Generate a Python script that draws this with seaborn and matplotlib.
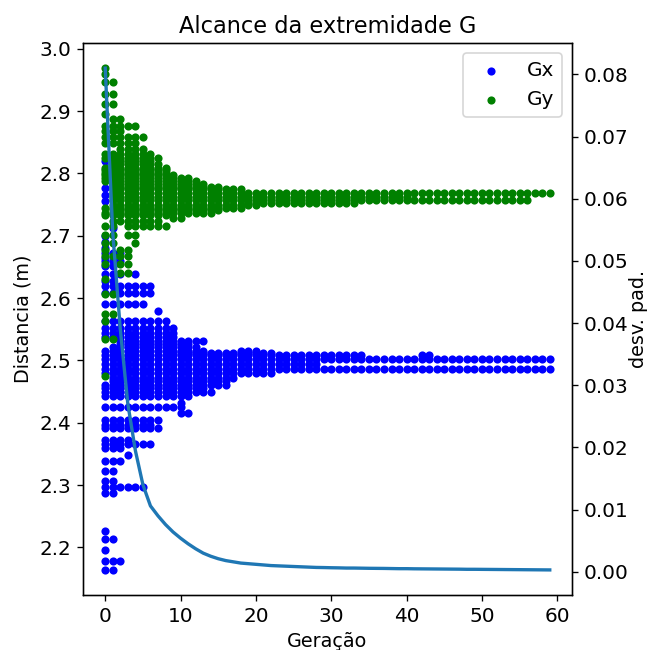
import numpy as np
import pandas as pd
import seaborn as sns
import matplotlib.pyplot as plt

# rows of individuals: value, first generation, last generation
gx_val = [2.164, 2.179, 2.196, 2.213, 2.227, 2.287, 2.297, 2.306, 2.322, 2.338,
          2.349, 2.360, 2.366, 2.373, 2.392, 2.397, 2.405, 2.415, 2.426, 2.432,
          2.443, 2.450, 2.456, 2.461, 2.467, 2.472, 2.480, 2.487, 2.495, 2.502,
          2.508, 2.508, 2.512, 2.515, 2.515, 2.521, 2.526, 2.531, 2.537, 2.544,
          2.552, 2.563, 2.579, 2.590, 2.608, 2.619, 2.627, 2.639, 2.639, 2.651,
          2.660, 2.665, 2.673, 2.680, 2.690, 2.700, 2.713, 2.756, 2.765, 2.776,
          2.820]
gx_first = [0, 0, 0, 0, 0, 0, 0, 0, 0, 0,
            3, 0, 0, 0, 0, 0, 0, 10, 0, 10,
            0, 0, 0, 0, 1, 1, 0, 0, 0, 0,
            0, 42, 10, 0, 18, 1, 2, 2, 0, 0,
            0, 0, 7, 0, 0, 0, 0, 0, 4, 0,
            0, 0, 0, 0, 0, 0, 1, 0, 0, 0,
            0]
gx_last = [1, 2, 0, 1, 0, 1, 5, 1, 1, 2,
           3, 2, 6, 3, 7, 6, 7, 11, 10, 10,
           11, 14, 13, 16, 16, 17, 22, 59, 28, 59,
           34, 43, 22, 13, 20, 12, 11, 13, 9, 9,
           9, 8, 7, 5, 6, 6, 1, 2, 4, 1,
           2, 0, 2, 0, 0, 0, 1, 0, 0, 0,
           0]

gy_val = [2.475, 2.534, 2.563, 2.574, 2.606, 2.630, 2.641, 2.654, 2.654, 2.667,
          2.678, 2.678, 2.689, 2.689, 2.702, 2.702, 2.716, 2.716, 2.723, 2.729,
          2.734, 2.737, 2.741, 2.745, 2.750, 2.752, 2.758, 2.763, 2.768, 2.775,
          2.779, 2.783, 2.788, 2.793, 2.797, 2.801, 2.805, 2.809, 2.815, 2.820,
          2.825, 2.831, 2.839, 2.849, 2.859, 2.868, 2.876, 2.887, 2.895, 2.911,
          2.927, 2.946, 2.959, 2.969]
gy_first = [0, 0, 0, 0, 0, 0, 2, 0, 2, 0,
            0, 2, 0, 4, 0, 3, 0, 3, 1, 9,
            0, 0, 1, 0, 1, 19, 1, 1, 1, 1,
            1, 1, 0, 0, 0, 0, 0, 0, 1, 1,
            0, 0, 2, 0, 0, 0, 0, 1, 0, 0,
            0, 0, 0, 0]
gy_last = [0, 1, 0, 1, 1, 0, 3, 0, 3, 3,
           0, 3, 1, 4, 1, 4, 1, 8, 7, 10,
           8, 14, 15, 18, 20, 33, 56, 40, 59, 18,
           15, 13, 12, 11, 9, 8, 8, 8, 7, 6,
           7, 6, 5, 4, 5, 2, 4, 2, 0, 1,
           1, 1, 0, 0]

# standard deviation per generation
desv = [0.0810, 0.0545, 0.0390, 0.0270, 0.0195, 0.0140, 0.0106, 0.0090, 0.0076, 0.0064,
        0.0054, 0.0045, 0.0037, 0.0030, 0.0025, 0.0021, 0.0018, 0.0016, 0.0014, 0.0013,
        0.0012, 0.0011, 0.0010, 0.00095, 0.0009, 0.00085, 0.0008, 0.00075, 0.0007, 0.00068,
        0.00065, 0.00063, 0.0006, 0.0006, 0.00058, 0.00056, 0.00055, 0.00054, 0.00052, 0.0005,
        0.0005, 0.00048, 0.00047, 0.00046, 0.00045, 0.00044, 0.00043, 0.00042, 0.0004, 0.0004,
        0.00039, 0.00038, 0.00037, 0.00036, 0.00035, 0.00034, 0.00033, 0.00032, 0.00031, 0.0003]


def expand(vals, first, last):
    gen, y = [], []
    for v, a, b in zip(vals, first, last):
        for g in range(a, b + 1):
            gen.append(g)
            y.append(v)
    return pd.DataFrame({'gen': gen, 'y': y})


dx = expand(gx_val, gx_first, gx_last)
dy = expand(gy_val, gy_first, gy_last)
ds = pd.DataFrame({'gen': np.arange(len(desv)), 'desv': desv})

plt.rcParams['font.size'] = 11.5
fig = plt.figure(figsize=(5.4, 650 / 120), dpi=120)
ax = fig.add_axes([0.1281, 0.0846, 0.7546, 0.8492])

sns.scatterplot(data=dx, x='gen', y='y', color='blue', s=24, linewidth=0,
                label='Gx', ax=ax)
sns.scatterplot(data=dy, x='gen', y='y', color='green', s=24, linewidth=0,
                label='Gy', ax=ax)
ax.set_title('Alcance da extremidade G', fontsize=13.5)
ax.set_xlabel('Geração')
ax.set_ylabel('Distancia (m)')
ax.tick_params(labelsize=12)
ax.legend(loc='upper right', fontsize=12)

ax2 = ax.twinx()
sns.lineplot(data=ds, x='gen', y='desv', color='#1f77b4', linewidth=2, ax=ax2)
ax2.set_ylabel('desv. pad.', labelpad=0)
ax2.tick_params(labelsize=12)

fig.savefig('out.png', dpi=120)
